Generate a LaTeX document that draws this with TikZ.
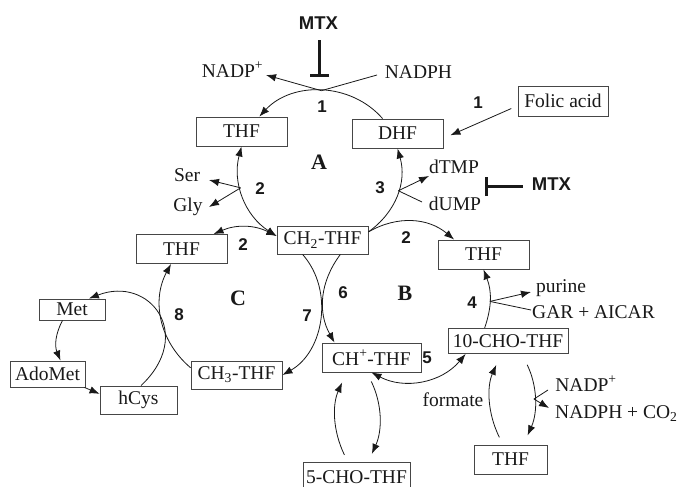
\documentclass[tikz,border=0pt]{standalone}
\usepackage{fontspec}
\setmainfont{Liberation Serif}
\setsansfont{Liberation Sans}
\usetikzlibrary{arrows.meta}
\definecolor{boxgray}{RGB}{70,70,70}
\definecolor{ink}{RGB}{25,25,25}
\tikzset{
  box/.style={draw=boxgray, line width=0.9pt, minimum height=29pt, inner sep=0pt,
    text=ink, font=\fontsize{19.5}{21}\selectfont},
  lbl/.style={inner sep=1pt, text=ink, font=\fontsize{19.5}{21}\selectfont},
  num/.style={inner sep=1pt, text=ink, font=\fontsize{17}{19}\selectfont\sffamily\bfseries},
  cyc/.style={inner sep=1pt, text=ink, font=\fontsize{22}{24}\selectfont\bfseries},
  mtx/.style={inner sep=1pt, text=ink, font=\fontsize{18.5}{20}\selectfont\sffamily\bfseries},
  conn/.style={draw=ink, line width=0.8pt},
  arr/.style={conn, -{Latex[length=10pt,width=7.5pt]}},
  darr/.style={conn, {Latex[length=10pt,width=7.5pt]}-{Latex[length=10pt,width=7.5pt]}},
  inhib/.style={draw=ink, line width=2.7pt},
}
\begin{document}
\begin{tikzpicture}[x=1pt,y=-1pt]
\useasboundingbox (0,0) rectangle (677,487);
\fill[white] (0,0) rectangle (677,487);
\begin{scope}
\clip (0,0) rectangle (677,487);

% ---- metabolite boxes ----
\node[box, minimum width=91pt] (THFa) at (241.5,131.5) {THF};
\node[box, minimum width=91pt] (DHF) at (397.5,133.5) {DHF};
\node[box, minimum width=90pt, minimum height=30pt] (folic) at (563,101) {Folic acid};
\node[box, minimum width=91pt, minimum height=28pt] (CH2) at (322.5,240) {CH\textsubscript{2}-THF};
\node[box, minimum width=91pt] (THFc) at (181.5,249) {THF};
\node[box, minimum width=91pt] (THFb) at (483.5,254.5) {THF};
\node[box, minimum width=120pt, minimum height=25pt] (CHO10) at (508,341) {10-CHO-THF};
\node[box, minimum width=99pt] (CHp) at (371.5,357.5) {CH\textsuperscript{+}-THF};
\node[box, minimum width=91pt, minimum height=28pt] (CH3) at (236.5,375) {CH\textsubscript{3}-THF};
\node[box, minimum width=66pt, minimum height=21pt] (Met) at (72,309.5) {Met};
\node[box, minimum width=75pt, minimum height=26pt] (AdoMet) at (47.5,374) {AdoMet};
\node[box, minimum width=77pt, minimum height=28pt] (hCys) at (138.5,400) {hCys};
\node[box, minimum width=107pt] (CHO5) at (356.5,477) {5-CHO-THF};
\node[box, minimum width=73pt] (THFd) at (510.5,459.5) {THF};

% ---- side metabolites ----
\node[lbl, anchor=base] (nadpA) at (232.5,77.5) {NADP\textsuperscript{+}};
\node[lbl, anchor=base] (nadphA) at (418.5,78.3) {NADPH};
\node[lbl, anchor=base] (ser) at (187,181.7) {Ser};
\node[lbl, anchor=base] (gly) at (188,211) {Gly};
\node[lbl, anchor=base] (dtmp) at (454,173.3) {dTMP};
\node[lbl, anchor=base] (dump) at (455,210) {dUMP};
\node[lbl, anchor=base] (purine) at (561,292.5) {purine};
\node[lbl, anchor=base] (gar) at (593.5,318.3) {GAR + AICAR};
\node[lbl, anchor=base] (formate) at (453,406.5) {formate};
\node[lbl, anchor=base] (nadpB) at (586,391.5) {NADP\textsuperscript{+}};
\node[lbl, anchor=base west] (nadphB) at (554,418) {NADPH + CO\textsubscript{2}};

% ---- inhibitor labels ----
\node[mtx, anchor=base] (mtxA) at (318.5,30) {MTX};
\node[mtx, anchor=base] (mtxB) at (551.5,190.7) {MTX};

% ---- enzyme numbers ----
\node[num] (e1a) at (322,107) {1};
\node[num] (e1b) at (478,103) {1};
\node[num] (e2a) at (260,189) {2};
\node[num] (e3) at (380,188) {3};
\node[num] (e2c) at (243,245) {2};
\node[num] (e2b) at (406,238) {2};
\node[num] (e6) at (343,293) {6};
\node[num] (e7) at (307,316) {7};
\node[num] (e8) at (179,315) {8};
\node[num] (e4) at (472,303) {4};
\node[num] (e5) at (427,358) {5};

% ---- cycle letters ----
\node[cyc] (cycA) at (319,162) {A};
\node[cyc] (cycB) at (405,293) {B};
\node[cyc] (cycC) at (238,298) {C};

% ---- free ends of side branches ----
\coordinate (nadphEnd) at (377,75);
\coordinate (nadpTip) at (266,75);
\coordinate (serTip) at (209,180);
\coordinate (glyTip) at (209,207);
\coordinate (dtmpTip) at (429,176);
\coordinate (dumpEnd) at (422,202);
\coordinate (purTip) at (531,292);
\coordinate (garEnd) at (531,310);
\coordinate (nadpBEnd) at (548,390);
\coordinate (nadphBTip) at (549,408);
\coordinate (mtxAbar) at (319.5,77);
\coordinate (mtxBbar) at (485,186.5);

% ---- cycle A ----
\draw[arr] (DHF.135) to[bend right=48] coordinate[pos=0.5] (brTop) (THFa.40);
\draw[conn] (nadphEnd) -- (brTop);
\draw[arr] (brTop) -- (nadpTip);
\draw[darr] (THFa.south) to[bend right=36] coordinate[pos=0.4] (brSG) (CH2.175);
\draw[arr] (brSG) -- (serTip);
\draw[arr] (brSG) -- (glyTip);
\draw[arr] (CH2.10) to[bend right=35] coordinate[pos=0.55] (brTU) (DHF.south);
\draw[arr] (brTU) -- (dtmpTip);
\draw[conn] (brTU) -- (dumpEnd);
\draw[arr, shorten <=6.8pt, shorten >=7.6pt] (folic.186) -- (DHF.-6);

% ---- cycle B ----
\draw[arr] (CH2.10) to[bend left=35] (THFb.153);
\draw[arr] (CHO10.151) to[bend right=20] coordinate[pos=0.45] (brPu) (THFb.south);
\draw[arr] (brPu) -- (purTip);
\draw[conn] (brPu) -- (garEnd);
\draw[darr] (CHp.south) to[bend right=39] (CHO10.197);
\draw[arr] (CH2.-39) to[bend right=33] (CHp.158);

% ---- cycle C ----
\draw[arr] (CH2.216) to[bend left=51] (CH3.east);
\draw[arr] (CH3.171) to[bend left=39] (THFc.235);
\draw[darr] (THFc.25) to[bend left=25] (CH2.175);

% ---- methionine cycle ----
\draw[arr] (hCys.80) .. controls (195,335) and (150,275) .. (Met.33);
\draw[arr] (Met.229) to[bend right=25] (AdoMet.46);
\draw[arr] (AdoMet.-20) -- (hCys.171);

% ---- 5-CHO-THF exchange ----
\draw[arr, shorten <=8pt, shorten >=11pt] (CHO5.120) to[bend left=25] (CHp.211);
\draw[arr, shorten <=10pt, shorten >=9pt] (CHp.253) to[bend left=25] (CHO5.52);

% ---- formate exchange ----
\draw[arr, shorten <=8pt, shorten >=12pt] (THFd.117) to[bend left=25] (CHO10.242);
\draw[arr, shorten <=12pt, shorten >=10pt] (CHO10.-43) to[bend left=25] coordinate[pos=0.5] (brFo) (THFd.49);
\draw[conn] (brFo) -- (nadpBEnd);
\draw[arr] (brFo) -- (nadphBTip);

% ---- methotrexate inhibition ----
\draw[inhib, shorten <=9pt, -{Bar[width=19pt]}] (mtxA.south -| mtxAbar) -- (mtxAbar);
\draw[inhib, shorten <=8pt, -{Bar[width=19pt]}] (mtxB.west |- mtxBbar) -- (mtxBbar);
\end{scope}
\end{tikzpicture}
\end{document}
